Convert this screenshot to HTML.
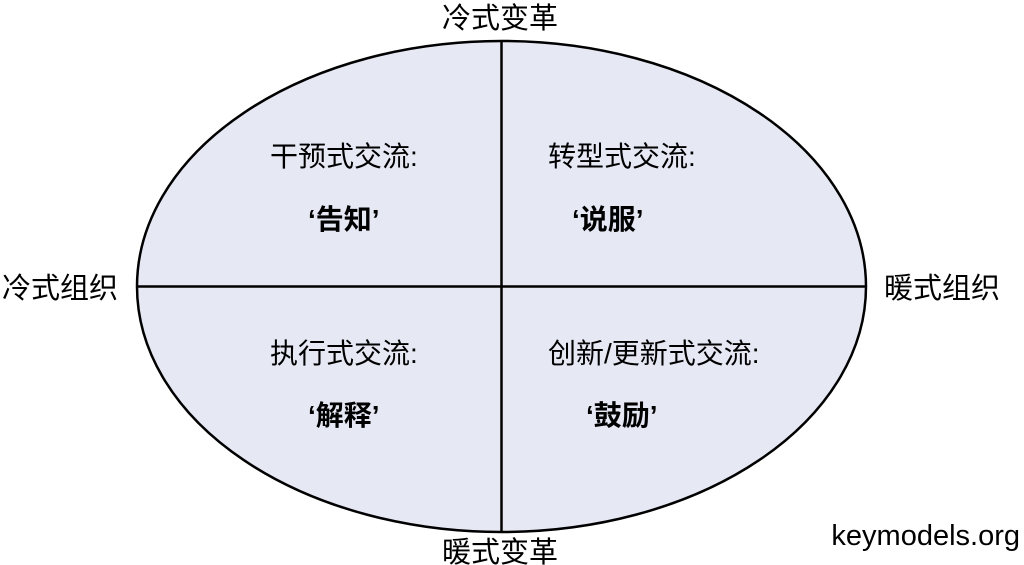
<!DOCTYPE html>
<html><head><meta charset="utf-8"><style>
html,body{margin:0;padding:0;background:#fff;}
svg{display:block;}
text{font-family:"Liberation Sans","Noto Sans CJK SC",sans-serif;fill:#000;}
</style></head><body>
<svg width="1024" height="565" viewBox="0 0 1024 565" xmlns="http://www.w3.org/2000/svg">
<ellipse cx="501.5" cy="286.5" rx="364.5" ry="245.5" fill="#e6e8f4" stroke="#000" stroke-width="2.5"/>
<line x1="501.5" y1="41" x2="501.5" y2="532" stroke="#000" stroke-width="2.5"/>
<line x1="137" y1="286.5" x2="866" y2="286.5" stroke="#000" stroke-width="2.5"/>
<g font-size="29" text-anchor="middle">
<text x="500" y="28">冷式变革</text>
<text x="500" y="562">暖式变革</text>
<text x="60" y="298">冷式组织</text>
<text x="942" y="298">暖式组织</text>
</g>
<g font-size="28">
<text x="270" y="166">干预式交流:</text>
<text x="308" y="229" font-weight="bold">‘告知’</text>
<text x="548" y="166">转型式交流:</text>
<text x="572" y="229" font-weight="bold">‘说服’</text>
<text x="270" y="363">执行式交流:</text>
<text x="308" y="425" font-weight="bold">‘解释’</text>
<text x="548" y="363">创新/更新式交流:</text>
<text x="586" y="425" font-weight="bold">‘鼓励’</text>
</g>
<text x="1020" y="545" font-size="29" text-anchor="end">keymodels.org</text>
</svg>
</body></html>
